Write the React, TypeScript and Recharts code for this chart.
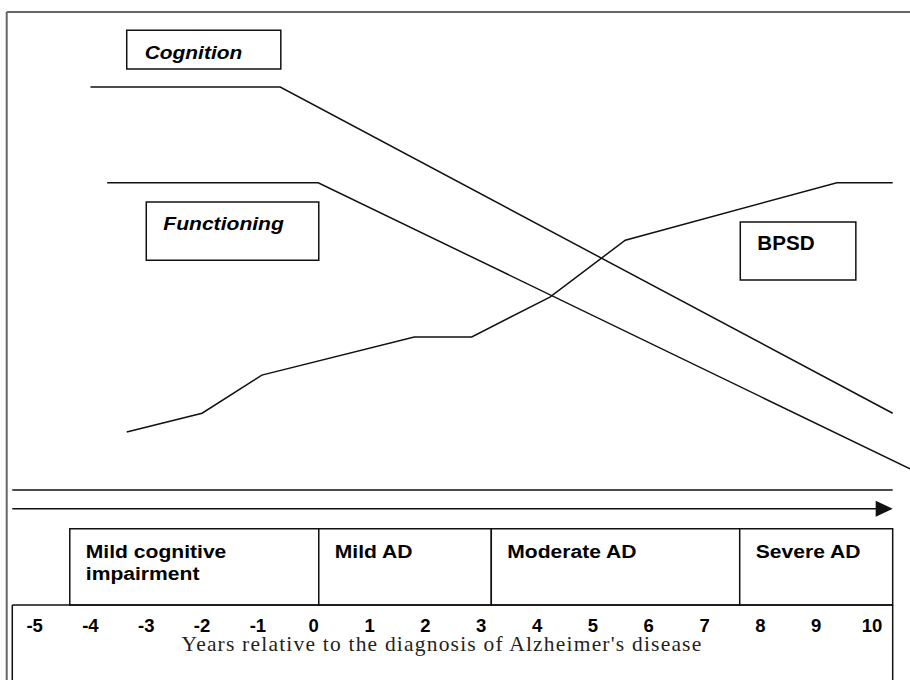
import React from 'react';
import { ComposedChart, Line, XAxis, YAxis, ReferenceArea, ReferenceLine } from 'recharts';

// years shown on the axis
const years = [-5, -4, -3, -2, -1, 0, 1, 2, 3, 4, 5, 6, 7, 8, 9, 10];

// schematic curves (x = years, y = relative level 0-100)
const cognitionYears = [-4.0, -0.6, 10.37];
const cognitionLevels = [85.6, 85.6, 31.7];
const functioningYears = [-3.7, 0.08, 10.68];
const functioningLevels = [69.8, 69.8, 22.5];
const bpsdYears = [-3.35, -2.0, -0.93, 1.8, 2.83, 4.23, 5.58, 9.37, 10.37];
const bpsdLevels = [28.6, 31.7, 38.0, 44.3, 44.3, 50.9, 60.3, 69.8, 69.8];

// disease stages
const phaseNames = [['Mild cognitive', 'impairment'], ['Mild AD'], ['Moderate AD'], ['Severe AD']];
const phaseBounds = [-4.37, 0.09, 3.18, 7.63, 10.37];

const xTitle = "Years relative to the diagnosis of Alzheimer's disease";

const toPoints = (xs: number[], ys: number[]) => xs.map((year, i) => ({ year, level: ys[i] }));
const cognition = toPoints(cognitionYears, cognitionLevels);
const functioning = toPoints(functioningYears, functioningLevels);
const bpsd = toPoints(bpsdYears, bpsdLevels);

const INK = '#111';
const SANS = "'Liberation Sans', Arial, sans-serif";

// label boxes placed over the curves
const curveLabels = [
  { lines: ['Cognition'], x1: -3.35, x2: -0.59, y1: 88.6, y2: 95.0, italic: true, size: 19, scale: 1.1, dx: 18, dy: 29 },
  { lines: ['Functioning'], x1: -3.0, x2: 0.09, y1: 57.0, y2: 66.6, italic: true, size: 19, scale: 1.11, dx: 17, dy: 28 },
  { lines: ['BPSD'], x1: 7.64, x2: 9.71, y1: 53.7, y2: 63.3, italic: false, size: 20, scale: 1.03, dx: 17, dy: 28 },
];

const Stretch = ({ x, y, text, size, scale, italic }: any) => (
  <text
    transform={`translate(${x},${y}) scale(${scale},1)`}
    fontSize={size}
    fontWeight={700}
    fontStyle={italic ? 'italic' : 'normal'}
    fontFamily={SANS}
    fill="#000"
  >
    {text}
  </text>
);

const BoxText = ({ viewBox, lines, dx, dy, gap = 22, size, scale, italic }: any) => {
  if (!viewBox) return null;
  return (
    <g>
      {lines.map((t: string, i: number) => (
        <Stretch key={t} x={viewBox.x + dx} y={viewBox.y + dy + i * gap} text={t} size={size} scale={scale} italic={italic} />
      ))}
    </g>
  );
};

const Caption = ({ viewBox }: any) => {
  if (!viewBox) return null;
  return (
    <text
      x={viewBox.x + viewBox.width / 2 - 13}
      y={viewBox.y + viewBox.height - 29}
      textAnchor="middle"
      fontFamily="'Liberation Serif', 'Times New Roman', serif"
      fontSize={21.5}
      letterSpacing={1.2}
      fill="#231f20"
    >
      {xTitle}
    </text>
  );
};

const ArrowLine = ({ x1, y1, x2, y2 }: any) => (
  <g>
    <line x1={x1} y1={y1} x2={x2 - 16} y2={y2} stroke={INK} strokeWidth={1.5} />
    <polygon points={`${x2 - 17},${y2 - 8} ${x2},${y2} ${x2 - 17},${y2 + 8}`} fill={INK} />
  </g>
);

const seg = (xa: number, ya: number, xb: number, yb: number) => [
  { x: xa, y: ya },
  { x: xb, y: yb },
];

export default function App() {
  const left = -5.4;
  const right = phaseBounds[phaseBounds.length - 1];
  return (
    <div style={{ position: 'absolute', left: 0, top: 0, width: 910, height: 680, background: '#fff', fontFamily: SANS }}>
      <ComposedChart width={910} height={680} margin={{ top: 0, right: 0, bottom: 0, left: 0 }}>
        <XAxis
          dataKey="year"
          type="number"
          domain={[-5.62, 10.68]}
          allowDataOverflow
          ticks={years}
          interval={0}
          height={75}
          axisLine={false}
          tickLine={false}
          tickSize={0}
          tickMargin={14}
          tick={{ fill: '#000', fontSize: 18.5, fontWeight: 700, fontFamily: SANS }}
          label={<Caption />}
        />
        <YAxis hide type="number" domain={[0, 100]} allowDataOverflow />

        {/* outer frame */}
        <ReferenceLine segment={seg(-5.5, 98, 10.68, 98)} stroke="#666" strokeWidth={2} ifOverflow="visible" />
        <ReferenceLine segment={seg(-5.5, 98, -5.5, -12.4)} stroke="#666" strokeWidth={2} ifOverflow="visible" />

        {/* time lines */}
        <ReferenceLine segment={seg(left, 19, right, 19)} stroke={INK} strokeWidth={1.5} ifOverflow="visible" />
        <ReferenceLine segment={seg(left, 15.9, right, 15.9)} ifOverflow="visible" shape={<ArrowLine />} />

        {/* stage boxes */}
        {phaseNames.map((lines, i) => (
          <ReferenceArea
            key={lines[0]}
            x1={phaseBounds[i]}
            x2={phaseBounds[i + 1]}
            y1={0}
            y2={12.6}
            fill="#fff"
            fillOpacity={1}
            stroke={INK}
            strokeWidth={1.5}
            ifOverflow="visible"
            label={<BoxText lines={lines} dx={16} dy={29} size={18.5} scale={1.14} italic={false} />}
          />
        ))}

        {/* years row */}
        <ReferenceLine segment={seg(left, 0, right, 0)} stroke={INK} strokeWidth={1.5} ifOverflow="visible" />
        <ReferenceLine segment={seg(left, 0, left, -12.4)} stroke={INK} strokeWidth={1.5} ifOverflow="visible" />
        <ReferenceLine segment={seg(right, 0, right, -12.4)} stroke={INK} strokeWidth={1.5} ifOverflow="visible" />

        {curveLabels.map((b) => (
          <ReferenceArea
            key={b.lines[0]}
            x1={b.x1}
            x2={b.x2}
            y1={b.y1}
            y2={b.y2}
            fill="#fff"
            fillOpacity={1}
            stroke={INK}
            strokeWidth={1.5}
            ifOverflow="visible"
            label={<BoxText lines={b.lines} dx={b.dx} dy={b.dy} size={b.size} scale={b.scale} italic={b.italic} />}
          />
        ))}

        <Line data={cognition} dataKey="level" type="linear" stroke={INK} strokeWidth={1.5} dot={false} activeDot={false} isAnimationActive={false} />
        <Line data={functioning} dataKey="level" type="linear" stroke={INK} strokeWidth={1.5} dot={false} activeDot={false} isAnimationActive={false} />
        <Line data={bpsd} dataKey="level" type="linear" stroke={INK} strokeWidth={1.5} dot={false} activeDot={false} isAnimationActive={false} />
      </ComposedChart>
    </div>
  );
}
